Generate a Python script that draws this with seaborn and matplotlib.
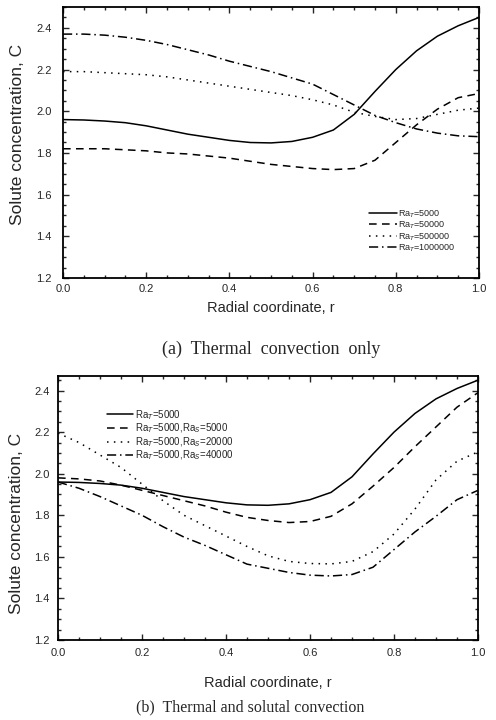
import numpy as np
import pandas as pd
import matplotlib
matplotlib.use("Agg")
import matplotlib.pyplot as plt
from matplotlib.ticker import AutoMinorLocator, MultipleLocator
import seaborn as sns

sns.set_style("ticks")
plt.rcParams['font.family'] = ['Liberation Sans', 'DejaVu Sans']

r = [0.0, 0.05, 0.1, 0.15, 0.2, 0.25, 0.3, 0.35, 0.4, 0.45, 0.5,
     0.55, 0.6, 0.65, 0.7, 0.75, 0.8, 0.85, 0.9, 0.95, 1.0]

# (a) Thermal convection only
ra5000 = [1.96, 1.958, 1.953, 1.945, 1.93, 1.91, 1.89, 1.875, 1.86, 1.85, 1.848,
          1.855, 1.875, 1.91, 1.985, 2.095, 2.20, 2.29, 2.36, 2.41, 2.45]
ra50000 = [1.82, 1.82, 1.82, 1.815, 1.81, 1.80, 1.795, 1.785, 1.775, 1.76, 1.745,
           1.735, 1.725, 1.72, 1.725, 1.765, 1.85, 1.935, 2.01, 2.065, 2.085]
ra500000 = [2.19, 2.19, 2.185, 2.18, 2.175, 2.165, 2.15, 2.135, 2.12, 2.105, 2.09,
            2.075, 2.055, 2.03, 1.995, 1.975, 1.96, 1.965, 1.985, 2.005, 2.015]
ra1000000 = [2.37, 2.37, 2.365, 2.355, 2.34, 2.32, 2.295, 2.27, 2.24, 2.215, 2.19,
             2.16, 2.13, 2.08, 2.03, 1.98, 1.945, 1.915, 1.895, 1.882, 1.878]
labels_a = ["Ra$_T$=5000", "Ra$_T$=50000", "Ra$_T$=500000", "Ra$_T$=1000000"]

# (b) Thermal and solutal convection
rs5000 = [1.98, 1.975, 1.965, 1.945, 1.92, 1.895, 1.87, 1.845, 1.815, 1.79, 1.775,
          1.765, 1.77, 1.795, 1.855, 1.94, 2.03, 2.13, 2.225, 2.32, 2.39]
rs20000 = [2.195, 2.15, 2.09, 2.03, 1.95, 1.87, 1.80, 1.75, 1.70, 1.65, 1.605,
           1.578, 1.568, 1.566, 1.578, 1.625, 1.71, 1.83, 1.97, 2.06, 2.105]
rs40000 = [1.96, 1.93, 1.89, 1.845, 1.80, 1.745, 1.695, 1.655, 1.61, 1.565, 1.545,
           1.525, 1.512, 1.508, 1.515, 1.55, 1.635, 1.72, 1.795, 1.875, 1.92]
labels_b = ["Ra$_T$=5000", "Ra$_T$=5000,Ra$_S$=5000",
            "Ra$_T$=5000,Ra$_S$=20000", "Ra$_T$=5000,Ra$_S$=40000"]

styles = ["-", (0, (5, 3.5)), (0, (1, 3.5)), (0, (6, 2.5, 1, 2.5))]

W, H = 496, 720
fig = plt.figure(figsize=(W / 100, H / 100), dpi=100)

def axes_px(l, t, rgt, b):
    return fig.add_axes([l / W, 1 - b / H, (rgt - l) / W, (b - t) / H])

ax1 = axes_px(63, 7, 479, 278)
ax2 = axes_px(58, 376, 478, 640)

def draw(ax, series, labels):
    for y, lab, ls in zip(series, labels, styles):
        df = pd.DataFrame({"r": r, "C": y})
        sns.lineplot(data=df, x="r", y="C", ax=ax, color="black", lw=1.1,
                     linestyle=ls, label=lab)

draw(ax1, [ra5000, ra50000, ra500000, ra1000000], labels_a)
draw(ax2, [ra5000, rs5000, rs20000, rs40000], labels_b)

for ax, ytop in ((ax1, 2.5), (ax2, 2.47)):
    ax.set_xlim(0, 1.0)
    ax.set_ylim(1.2, ytop)
    ax.set_xticks([0.0, 0.2, 0.4, 0.6, 0.8, 1.0])
    ax.set_xticklabels(["0.0", "0.2", "0.4", "0.6", "0.8", "1.0"])
    ax.set_yticks([1.2, 1.4, 1.6, 1.8, 2.0, 2.2, 2.4])
    ax.set_yticklabels(["1.2", "1.4", "1.6", "1.8", "2.0", "2.2", "2.4"])
    ax.xaxis.set_minor_locator(AutoMinorLocator(4))
    ax.yaxis.set_minor_locator(AutoMinorLocator(4))
    ax.tick_params(which="both", direction="in", top=True, right=True,
                   labelsize=8, width=1.0)
    ax.tick_params(which="major", length=4)
    ax.tick_params(which="minor", length=2)
    for s in ax.spines.values():
        s.set_linewidth(1.3)
        s.set_color("black")
    ax.set_xlabel("Radial coordinate, r", fontsize=10.5)
    ax.set_ylabel("Solute concentration, C", fontsize=12.5)

ax1.tick_params(axis="x", which="major", pad=4)
ax1.tick_params(axis="y", which="major", pad=8)
ax2.tick_params(axis="x", which="major", pad=6)
ax2.tick_params(axis="y", which="major", pad=6)

ax1.xaxis.set_label_coords(0.5, -0.085)
ax1.yaxis.set_label_coords(-0.091, 0.53)
ax2.xaxis.set_label_coords(0.5, -0.135)
ax2.yaxis.set_label_coords(-0.08, 0.44)

ax1.legend(loc="lower right", bbox_to_anchor=(0.96, 0.065), frameon=False,
           fontsize=6.5, handlelength=3.2, handletextpad=0.1, labelspacing=0.0,
           borderpad=0.2)
ax2.legend(loc="upper left", bbox_to_anchor=(0.1, 0.905), frameon=False,
           fontsize=7, handlelength=2.7, handletextpad=0.2, labelspacing=0.0,
           borderpad=0.2)

fig.text(271 / W, 1 - 349 / H, "(a)  Thermal  convection  only",
         family=["Liberation Serif"], fontsize=13, ha="center", va="center")
fig.text(250 / W, 1 - 707 / H, "(b)  Thermal and solutal convection",
         family=["Liberation Serif"], fontsize=11.5, ha="center", va="center")

fig.savefig("out.png", dpi=100)
